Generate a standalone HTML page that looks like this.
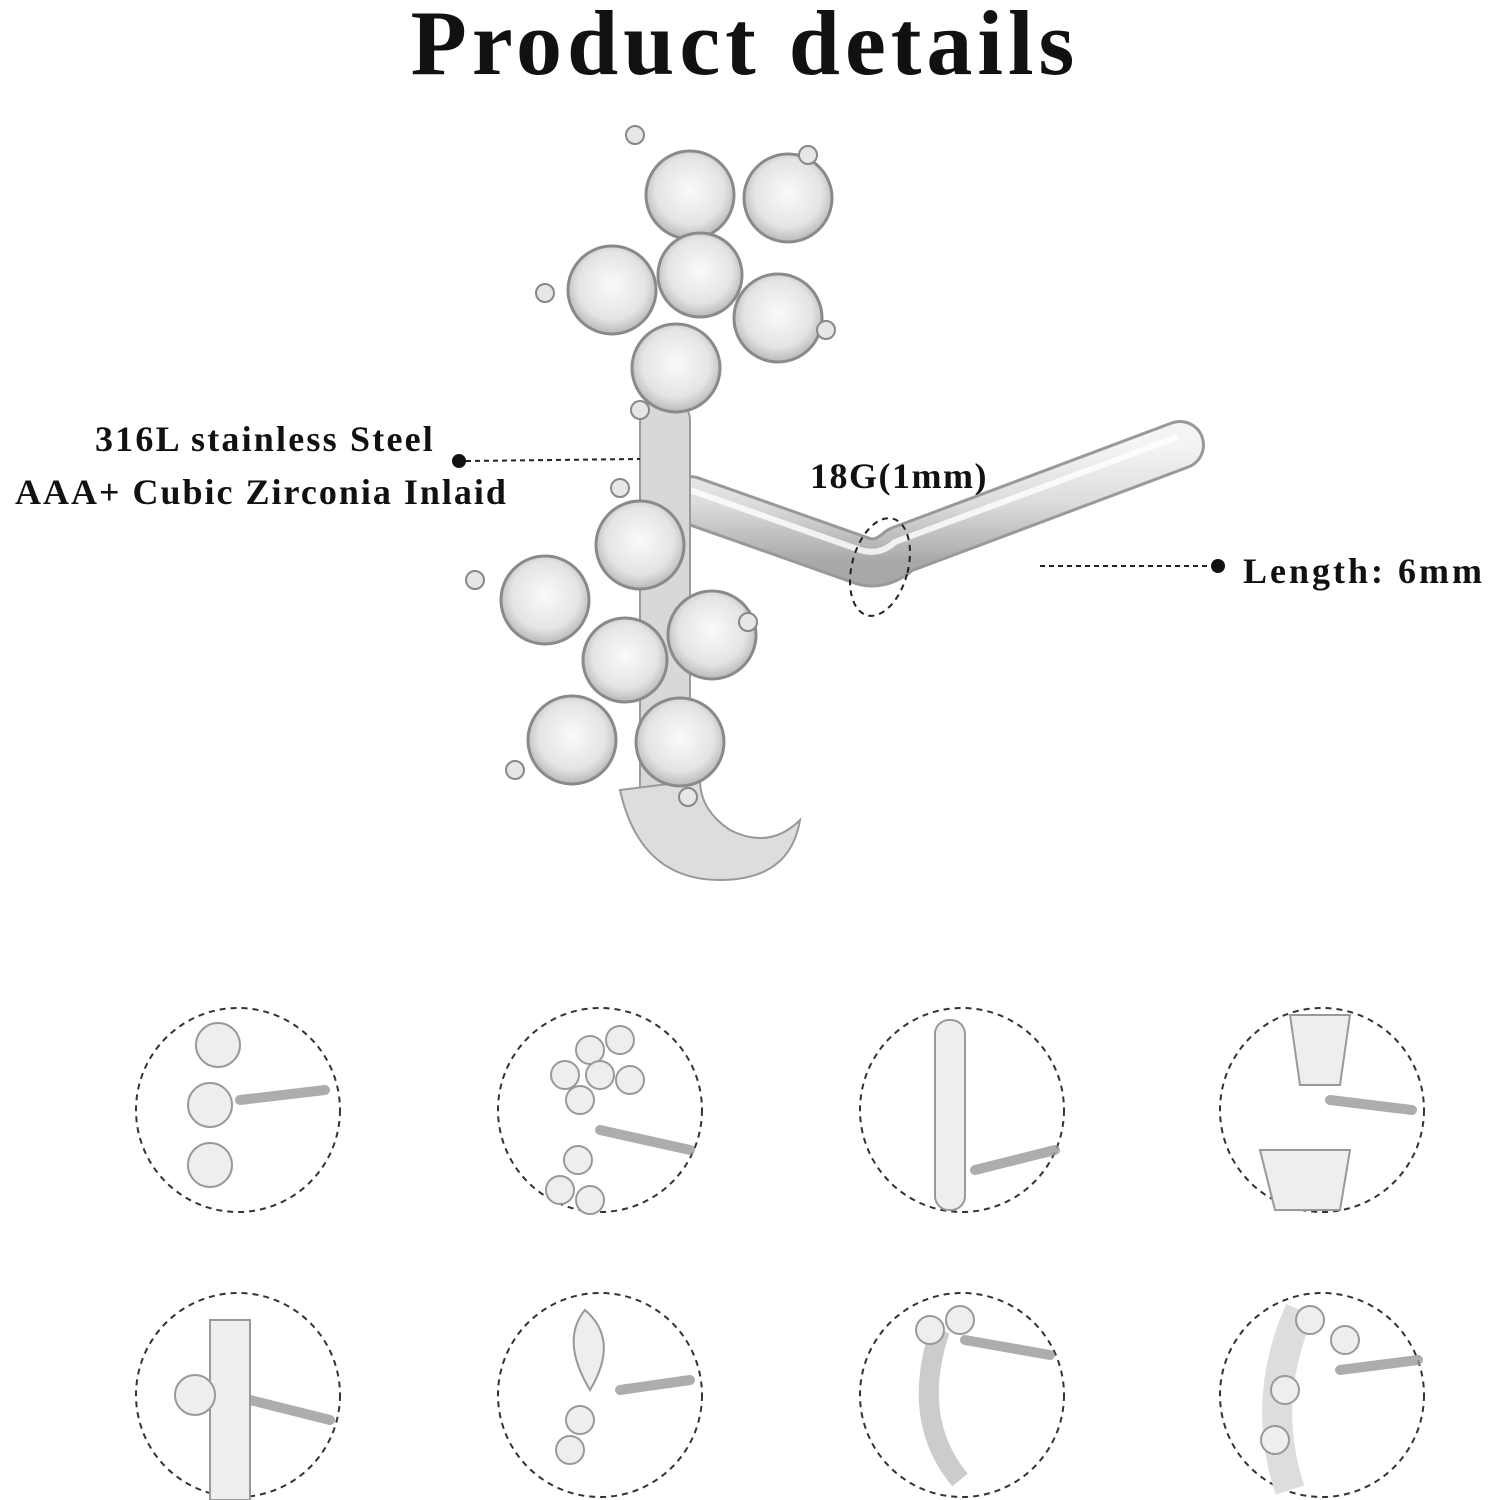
<!DOCTYPE html>
<html><head><meta charset="utf-8"><style>
html,body{margin:0;padding:0;background:#fff;}
body{width:1500px;height:1500px;position:relative;overflow:hidden;font-family:"Liberation Serif",serif;}
.t{position:absolute;font-weight:bold;color:#111;white-space:nowrap;}
</style></head><body>
<div class="t" style="left:0;width:1490px;text-align:center;top:-10px;font-size:92px;letter-spacing:5px;">Product details</div>
<div class="t" style="right:1065px;top:418px;font-size:36px;letter-spacing:2.2px;">316L stainless Steel</div>
<div class="t" style="left:15px;top:471px;font-size:36px;letter-spacing:2px;">AAA+ Cubic Zirconia Inlaid</div>
<div class="t" style="left:810px;top:455px;font-size:36px;letter-spacing:1.5px;">18G(1mm)</div>
<div class="t" style="left:1243px;top:550px;font-size:36px;letter-spacing:3px;">Length: 6mm</div>
<svg width="1500" height="1500" style="position:absolute;left:0;top:0">
<defs>
<radialGradient id="g" cx="50%" cy="45%" r="55%"><stop offset="0" stop-color="#fafafa"/><stop offset="0.7" stop-color="#e4e4e4"/><stop offset="1" stop-color="#b8b8b8"/></radialGradient>
<linearGradient id="bar" x1="0" y1="0" x2="0" y2="1"><stop offset="0" stop-color="#f4f4f4"/><stop offset="0.5" stop-color="#dcdcdc"/><stop offset="1" stop-color="#a8a8a8"/></linearGradient>
</defs>
<path d="M690 500 L860 560 Q880 568 900 550 L1180 445" fill="none" stroke="#999" stroke-width="50" stroke-linecap="round" stroke-linejoin="round"/>
<path d="M690 500 L860 560 Q880 568 900 550 L1180 445" fill="none" stroke="url(#bar)" stroke-width="44" stroke-linecap="round" stroke-linejoin="round"/>
<path d="M690 490 L860 550 Q880 556 895 542 L1175 438" fill="none" stroke="#fff" stroke-width="6" stroke-linecap="round" opacity="0.8"/>
<rect x="640" y="400" width="50" height="440" rx="20" fill="#d8d8d8" stroke="#9a9a9a" stroke-width="2"/>
<path d="M620 790 Q640 880 720 880 Q790 880 800 820 Q770 850 730 830 Q700 810 700 780 Z" fill="#ddd" stroke="#999" stroke-width="2"/>
<g stroke="#8a8a8a" stroke-width="3" fill="url(#g)">
<circle cx="690" cy="195" r="44"/><circle cx="788" cy="198" r="44"/><circle cx="612" cy="290" r="44"/>
<circle cx="700" cy="275" r="42"/><circle cx="778" cy="318" r="44"/><circle cx="676" cy="368" r="44"/>
<circle cx="640" cy="545" r="44"/><circle cx="545" cy="600" r="44"/><circle cx="625" cy="660" r="42"/>
<circle cx="712" cy="635" r="44"/><circle cx="572" cy="740" r="44"/><circle cx="680" cy="742" r="44"/>
</g>
<g fill="#e6e6e6" stroke="#888" stroke-width="2">
<circle cx="635" cy="135" r="9"/><circle cx="808" cy="155" r="9"/><circle cx="545" cy="293" r="9"/><circle cx="826" cy="330" r="9"/><circle cx="640" cy="410" r="9"/>
<circle cx="620" cy="488" r="9"/><circle cx="475" cy="580" r="9"/><circle cx="748" cy="622" r="9"/><circle cx="515" cy="770" r="9"/><circle cx="688" cy="797" r="9"/>
</g>
<circle cx="459" cy="461" r="7" fill="#111"/>
<line x1="466" y1="461" x2="640" y2="459" stroke="#222" stroke-width="2" stroke-dasharray="5,4"/>
<ellipse cx="880" cy="567" rx="28" ry="50" fill="none" stroke="#222" stroke-width="2" stroke-dasharray="6,5" transform="rotate(15 880 567)"/>
<circle cx="1218" cy="566" r="7" fill="#111"/>
<line x1="1040" y1="566" x2="1212" y2="566" stroke="#222" stroke-width="2" stroke-dasharray="5,4"/>
<g fill="none" stroke="#333" stroke-width="2" stroke-dasharray="6,5">
<circle cx="238" cy="1110" r="102"/><circle cx="600" cy="1110" r="102"/><circle cx="962" cy="1110" r="102"/><circle cx="1322" cy="1110" r="102"/>
<circle cx="238" cy="1395" r="102"/><circle cx="600" cy="1395" r="102"/><circle cx="962" cy="1395" r="102"/><circle cx="1322" cy="1395" r="102"/>
</g>
<g stroke="#999" stroke-width="10" stroke-linecap="round" fill="none" opacity="0.8">
<path d="M240 1100 L325 1090"/><path d="M600 1130 L690 1150"/><path d="M975 1170 L1055 1150"/><path d="M1330 1100 L1412 1110"/>
<path d="M250 1400 L330 1420"/><path d="M620 1390 L690 1380"/><path d="M965 1340 L1050 1355"/><path d="M1340 1370 L1418 1360"/>
</g>
<g stroke="#999" stroke-width="2" fill="#eee">
<circle cx="218" cy="1045" r="22"/><circle cx="210" cy="1105" r="22"/><circle cx="210" cy="1165" r="22"/>
<circle cx="590" cy="1050" r="14"/><circle cx="620" cy="1040" r="14"/><circle cx="565" cy="1075" r="14"/><circle cx="600" cy="1075" r="14"/><circle cx="630" cy="1080" r="14"/><circle cx="580" cy="1100" r="14"/><circle cx="578" cy="1160" r="14"/><circle cx="560" cy="1190" r="14"/><circle cx="590" cy="1200" r="14"/>
<rect x="935" y="1020" width="30" height="190" rx="14"/>
<path d="M1290 1015 L1350 1015 L1340 1085 L1300 1085 Z"/><path d="M1260 1150 L1350 1150 L1340 1210 L1275 1210 Z"/>
<rect x="210" y="1320" width="40" height="180"/><circle cx="195" cy="1395" r="20"/>
<path d="M585 1310 Q620 1340 590 1390 Q560 1340 585 1310 Z"/><circle cx="580" cy="1420" r="14"/><circle cx="570" cy="1450" r="14"/>
<path d="M940 1330 Q910 1420 960 1480" stroke-width="20" stroke="#ccc" fill="none"/><circle cx="930" cy="1330" r="14"/><circle cx="960" cy="1320" r="14"/>
<path d="M1300 1310 Q1260 1400 1290 1490" stroke-width="30" stroke="#ddd" fill="none"/><circle cx="1310" cy="1320" r="14"/><circle cx="1345" cy="1340" r="14"/><circle cx="1285" cy="1390" r="14"/><circle cx="1275" cy="1440" r="14"/>
</g>
</svg>
</body></html>
